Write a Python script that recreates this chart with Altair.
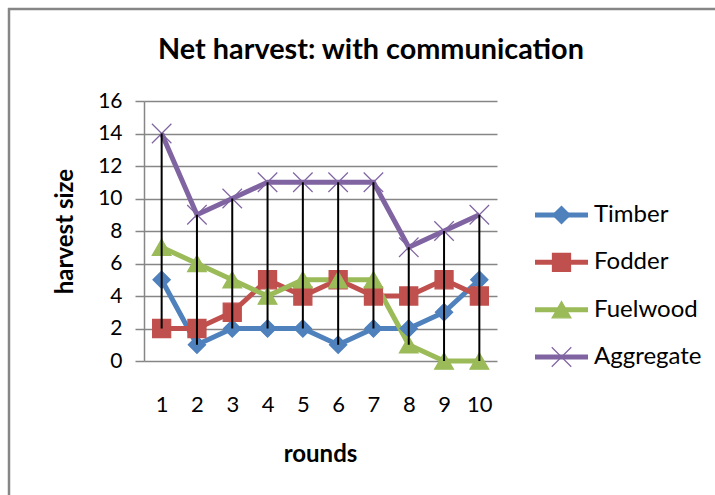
import altair as alt
import pandas as pd

# Net harvest per round, by resource, with communication
rounds = [1, 2, 3, 4, 5, 6, 7, 8, 9, 10]
timber = [5, 1, 2, 2, 2, 1, 2, 2, 3, 5]
fodder = [2, 2, 3, 5, 4, 5, 4, 4, 5, 4]
fuelwood = [7, 6, 5, 4, 5, 5, 5, 1, 0, 0]
aggregate = [14, 9, 10, 11, 11, 11, 11, 7, 8, 9]

series_names = ["Timber", "Fodder", "Fuelwood", "Aggregate"]
series_values = [timber, fodder, fuelwood, aggregate]
series_colors = ["#4F81BD", "#C0504D", "#9BBB59", "#8064A2"]
y_ticks = [0, 2, 4, 6, 8, 10, 12, 14, 16]
chart_title = "Net harvest: with communication"

X_PATH = "M-1,-1L1,1M-1,1L1,-1"
marker_shapes = ["diamond", "square", "triangle-up", X_PATH]
marker_sizes = [300, 380, 340, 484]

FONT = "Lato"
GRID = "#868686"

rows = []
for name, vals in zip(series_names, series_values):
    for r, v in zip(rounds, vals):
        rows.append({"round": r, "series": name, "value": v})
long = pd.DataFrame(rows)

color_scale = alt.Scale(domain=series_names, range=series_colors)
shape_scale = alt.Scale(domain=series_names, range=marker_shapes)
size_scale = alt.Scale(domain=series_names, range=marker_sizes)

x_enc = alt.X(
    "round:O",
    scale=alt.Scale(type="point", padding=0.5),
    axis=alt.Axis(
        title="rounds", labelAngle=0, ticks=False, tickSize=0, domain=False,
        grid=False, labelPadding=33, labelFontSize=22, labelFont=FONT,
        labelColor="black", titleFont=FONT, titleFontSize=24,
        titleFontWeight="bold", titleColor="black", titleX=176, titleY=93,
        titleBaseline="middle", titleAlign="center",
    ),
)

y_axis = alt.Axis(
    title="harvest size", values=y_ticks, grid=True, gridColor=GRID,
    gridWidth=1.5, domainColor=GRID, domainWidth=1.5, tickColor=GRID,
    tickWidth=1.5, tickSize=9, labelPadding=13, labelFontSize=21,
    labelFont=FONT, labelColor="black", titleFont=FONT, titleFontSize=24,
    titleFontWeight="bold", titleColor="black", titleAngle=-90, titleX=-79,
    titleY=130, titleAlign="center", titleBaseline="middle",
)
y_scale = alt.Scale(domain=[0, 16], nice=False)

base = alt.Chart(long)

lines = base.mark_line(strokeWidth=5).encode(
    x=x_enc,
    y=alt.Y("value:Q", scale=y_scale, axis=y_axis),
    color=alt.Color("series:N", scale=color_scale, legend=None),
)

points = base.mark_point(filled=True, opacity=1, strokeWidth=1.2).encode(
    x=x_enc,
    y=alt.Y("value:Q", scale=y_scale, axis=y_axis),
    color=alt.Color("series:N", scale=color_scale, legend=None),
    stroke=alt.Stroke("series:N", scale=color_scale, legend=None),
    shape=alt.Shape("series:N", scale=shape_scale, legend=None),
    size=alt.Size("series:O", scale=size_scale, legend=None),
)

# high-low lines: from the smallest to the largest value in each round
hilo = base.transform_aggregate(
    lo="min(value)", hi="max(value)", groupby=["round"]
).mark_rule(color="black", strokeWidth=2).encode(
    x=x_enc,
    y=alt.Y("lo:Q", scale=y_scale, axis=y_axis),
    y2="hi:Q",
)

main = alt.layer(lines, points, hilo)

# legend keys: line with marker, then label
leg = alt.Chart(pd.DataFrame({"series": series_names}))
leg_y = alt.Y(
    "series:N",
    scale=alt.Scale(type="point", domain=series_names, range=[114, 256], padding=0),
    axis=None,
)
leg_line = leg.mark_rule(strokeWidth=5).encode(
    x=alt.value(391), x2=alt.value(444), y=leg_y,
    color=alt.Color("series:N", scale=color_scale, legend=None),
)
leg_pts = leg.mark_point(filled=True, opacity=1, strokeWidth=1.2).encode(
    x=alt.value(417.5), y=leg_y,
    color=alt.Color("series:N", scale=color_scale, legend=None),
    stroke=alt.Stroke("series:N", scale=color_scale, legend=None),
    shape=alt.Shape("series:N", scale=shape_scale, legend=None),
    size=alt.Size("series:O", scale=size_scale, legend=None),
)
leg_txt = leg.mark_text(
    align="left", baseline="middle", font=FONT, fontSize=24, color="black"
).encode(x=alt.value(450), y=leg_y, text="series:N")
legend = alt.layer(leg_line, leg_pts, leg_txt)

single = alt.Chart(alt.Data(values=[{"title": chart_title}]))

# chart title
title = single.mark_text(
    align="center", baseline="alphabetic", font=FONT, fontSize=28.8,
    fontWeight="bold", color="black",
).encode(x=alt.value(227), y=alt.value(-42), text="title:N")

# chart-area border (top and left edges)
frame_top = single.mark_rule(color=GRID, strokeWidth=2.5).encode(
    x=alt.value(-136), x2=alt.value(571), y=alt.value(-92)
)
frame_left = single.mark_rule(color=GRID, strokeWidth=2.5).encode(
    x=alt.value(-135), y=alt.value(-93), y2=alt.value(394)
)

chart = alt.layer(main, legend, title, frame_top, frame_left).resolve_scale(
    y="independent"
).properties(
    width=353,
    height=260,
    padding={"left": 144, "top": 101, "right": 218, "bottom": 134},
    autosize=alt.AutoSizeParams(type="none"),
    background="white",
).configure_view(stroke=None)

chart.save("out.html", embed_options={"renderer": "svg", "actions": False})
